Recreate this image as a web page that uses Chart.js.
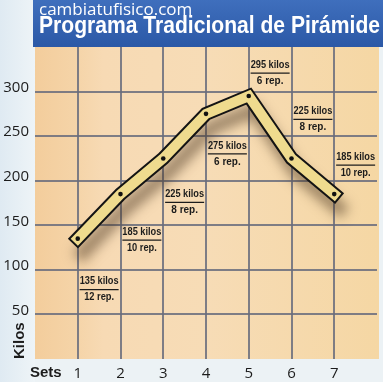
<!DOCTYPE html>
<html>
<head>
<meta charset="utf-8">
<script src="https://cdn.jsdelivr.net/npm/chart.js@4/dist/chart.umd.min.js"></script>
<style>
html,body{margin:0;padding:0;background:#eaf1f5;}
#wrap{width:383px;height:382px;}
</style>
</head>
<body>
<div id="wrap"><canvas id="c" width="383" height="382"></canvas></div>
<script>
const siteName = "cambiatufisico.com";
const chartTitle = "Programa Tradicional de Pirámide";
const sets = [1, 2, 3, 4, 5, 6, 7];
const kilos = [135, 185, 225, 275, 295, 225, 185];
const reps = [12, 10, 8, 6, 6, 8, 10];
const yTickValues = [50, 100, 150, 200, 250, 300];
const xAxisLabel = "Sets";
const yAxisLabel = "Kilos";

const points = sets.map((s, i) => ({ x: s, y: kilos[i] }));

// pixel offsets (layout only) of each note relative to its point
const noteOffsets = [51, 46, 44, 40, -23, -39, -29];

const GRID = 'rgba(104,108,124,0.85)';

const decor = {
  id: 'decor',
  beforeDraw(chart) {
    const ctx = chart.ctx, a = chart.chartArea, W = chart.width, H = chart.height;
    ctx.save();
    ctx.fillStyle = '#ecf2f5';
    ctx.fillRect(0, 0, W, H);
    let g = ctx.createLinearGradient(0, 0, a.left, 0);
    g.addColorStop(0, '#dfeaf2'); g.addColorStop(1, '#eef4f7');
    ctx.fillStyle = g;
    ctx.fillRect(0, 0, a.left, H);
    // plot background
    g = ctx.createLinearGradient(a.left, 0, a.right, 0);
    g.addColorStop(0, '#f3cd9c');
    g.addColorStop(0.12, '#f5d4a8');
    g.addColorStop(0.2, '#f7dab4');
    g.addColorStop(0.5, '#f7dcb6');
    g.addColorStop(1, '#f5d7a4');
    ctx.fillStyle = g;
    ctx.fillRect(a.left, a.top, a.right - a.left + 2, a.bottom - a.top);
    // title bar
    g = ctx.createLinearGradient(0, 0, 0, a.top);
    g.addColorStop(0, '#3f6fbd'); g.addColorStop(1, '#2b58a6');
    ctx.fillStyle = g;
    ctx.fillRect(a.left - 2, 0, W - a.left + 2, a.top);
    ctx.fillStyle = '#ffffff';
    ctx.textBaseline = 'alphabetic';
    ctx.textAlign = 'left';
    ctx.font = '17px "Open Sans", sans-serif';
    ctx.fillText(siteName, 39, 15, 166);
    ctx.font = 'bold 23px "Liberation Sans", Arial, sans-serif';
    ctx.fillText(chartTitle, 39, 33, 341);
    ctx.restore();
  },
  beforeDatasetDraw(chart, args) {
    if (args.index === 0) {
      const ctx = chart.ctx;
      ctx.save();
      ctx.shadowColor = 'rgba(70,50,30,0.5)';
      ctx.shadowBlur = 12;
      ctx.shadowOffsetX = 5;
      ctx.shadowOffsetY = 14;
    }
  },
  afterDatasetDraw(chart, args) {
    if (args.index === 0) chart.ctx.restore();
  },
  afterDraw(chart) {
    const ctx = chart.ctx;
    const xs = chart.scales.x, ys = chart.scales.y;
    ctx.save();
    ctx.fillStyle = '#1c1c1c';
    ctx.strokeStyle = '#1c1c1c';
    ctx.textAlign = 'center';
    ctx.textBaseline = 'middle';
    sets.forEach((s, i) => {
      const cx = xs.getPixelForValue(s + 0.5);
      const cy = ys.getPixelForValue(kilos[i]) + noteOffsets[i];
      ctx.font = 'bold 10px "Liberation Sans", Arial, sans-serif';
      ctx.fillText(kilos[i] + ' kilos', cx, cy - 8, 39);
      ctx.fillText(reps[i] + ' rep.', cx, cy + 8, 30);
      ctx.lineWidth = 1.3;
      ctx.beginPath();
      ctx.moveTo(cx - 19.5, cy);
      ctx.lineTo(cx + 19.5, cy);
      ctx.stroke();
    });
    // axis titles
    ctx.font = 'bold 15px "Liberation Sans", Arial, sans-serif';
    ctx.textAlign = 'left';
    ctx.textBaseline = 'alphabetic';
    ctx.fillText(xAxisLabel, 30, 377, 34);
    ctx.save();
    ctx.translate(24, 359);
    ctx.rotate(-Math.PI / 2);
    ctx.fillText(yAxisLabel, 0, 0, 37);
    ctx.restore();
    ctx.restore();
  }
};

new Chart(document.getElementById('c'), {
  type: 'line',
  data: {
    datasets: [
      {
        data: points,
        borderColor: '#141414',
        borderWidth: 14,
        borderCapStyle: 'square',
        borderJoinStyle: 'miter',
        pointRadius: 0,
        tension: 0,
        order: 2
      },
      {
        data: points,
        borderColor: '#efdb8e',
        borderWidth: 10,
        borderCapStyle: 'square',
        borderJoinStyle: 'miter',
        pointRadius: 2.3,
        pointBorderWidth: 0,
        pointBackgroundColor: '#111',
        tension: 0,
        order: 1
      }
    ]
  },
  options: {
    responsive: false,
    animation: false,
    events: [],
    layout: { padding: { top: 47, right: 1, left: 0, bottom: 0 } },
    plugins: { legend: { display: false }, tooltip: { enabled: false } },
    scales: {
      x: {
        type: 'linear', min: 0, max: 8,
        afterFit(s) { s.height = 23; },
        border: { display: false },
        grid: {
          drawTicks: false,
          lineWidth: 2,
          color: c => (c.tick && sets.includes(c.tick.value)) ? GRID : 'rgba(0,0,0,0)'
        },
        afterBuildTicks(s) { s.ticks = [0].concat(sets, [8]).map(v => ({ value: v })); },
        ticks: {
          padding: 6,
          autoSkip: false,
          maxRotation: 0,
          color: '#1c1c1c',
          font: { size: 15, family: '"Open Sans", sans-serif' },
          callback: v => sets.includes(v) ? String(v) : ''
        }
      },
      y: {
        min: 0, max: 350,
        afterFit(s) { s.width = 35; },
        border: { display: false },
        afterBuildTicks(s) { s.ticks = [0].concat(yTickValues, [350]).map(v => ({ value: v })); },
        grid: {
          drawTicks: false,
          lineWidth: 2,
          color: c => (c.tick && yTickValues.includes(c.tick.value)) ? GRID : 'rgba(0,0,0,0)'
        },
        ticks: {
          padding: 6,
          labelOffset: -4,
          color: '#1c1c1c',
          font: { size: 15, family: '"Open Sans", sans-serif' },
          callback: v => yTickValues.includes(v) ? String(v) : ''
        }
      }
    }
  },
  plugins: [decor]
});
</script>
</body>
</html>
